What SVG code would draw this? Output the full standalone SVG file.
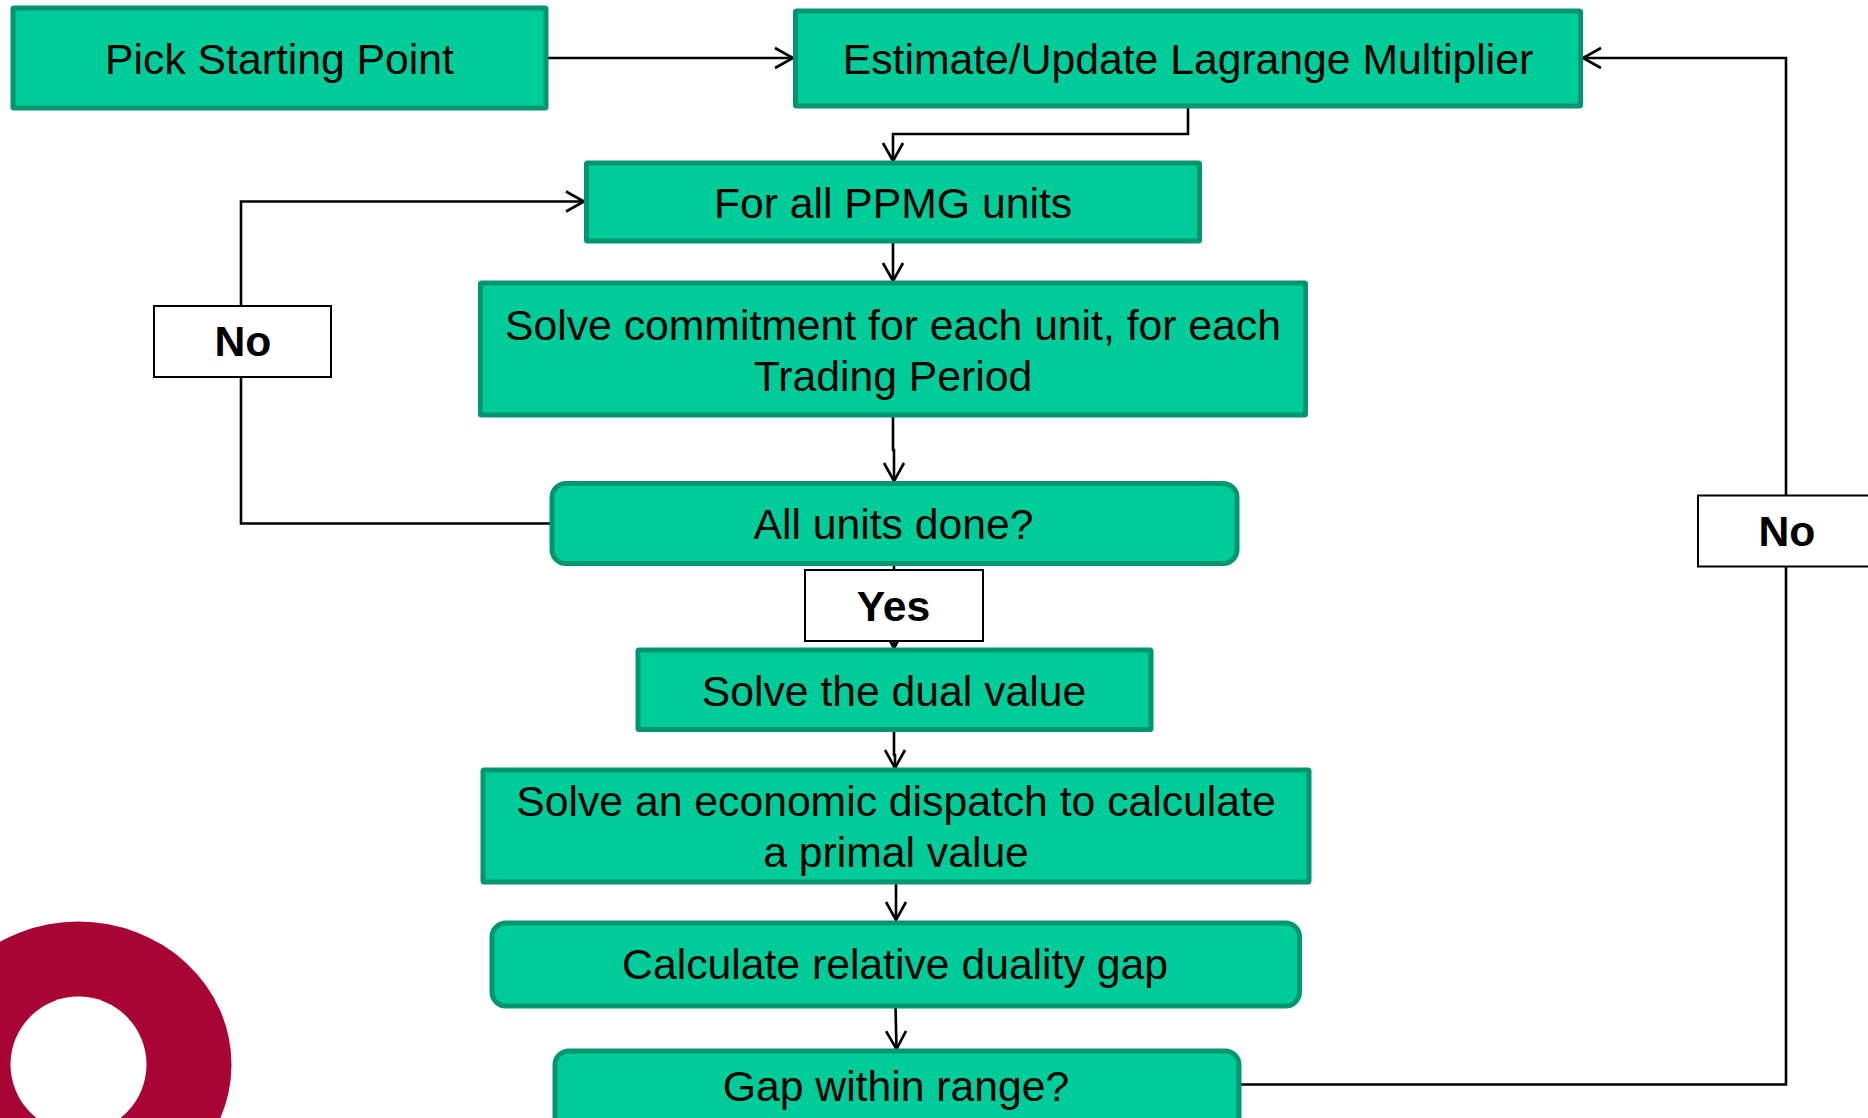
<svg xmlns="http://www.w3.org/2000/svg" width="1868" height="1118" viewBox="0 0 1868 1118">
<style>
.b{fill:#00CC99;stroke:#009670;stroke-width:5}
.l{fill:#fff;stroke:#000;stroke-width:2}
.t{font-family:"Liberation Sans",Arial,sans-serif;font-size:42.700px;fill:#000;text-anchor:middle}
.y{font-family:"Liberation Sans",Arial,sans-serif;font-size:42.700px;font-weight:bold;fill:#000;text-anchor:middle}
.c{fill:none;stroke:#000;stroke-width:2.600}
</style>
<defs>
<marker id="a" markerUnits="userSpaceOnUse" markerWidth="24" markerHeight="26" refX="20" refY="12" orient="auto">
<path d="M2 2L20 12L2 22" fill="none" stroke="#000" stroke-width="2.600"/>
</marker>
</defs>
<rect width="1868" height="1118" fill="#fff"/>
<g id="logo">
<ellipse cx="78.500" cy="1064.500" rx="153" ry="143" fill="#A80535"/>
<ellipse cx="78.500" cy="1064.500" rx="68" ry="68" fill="#fff"/>
</g>
<g id="connectors">
<path class="c" marker-end="url(#a)" d="M548 58H793"/>
<path class="c" marker-end="url(#a)" d="M1188 106V134H893V161"/>
<path class="c" marker-end="url(#a)" d="M893 241V281"/>
<path class="c" marker-end="url(#a)" d="M893 415V450H894V481"/>
<path class="c" marker-end="url(#a)" d="M552 523.500H241V201.500H584"/>
<path class="c" marker-end="url(#a)" d="M894 564V648"/>
<path class="c" marker-end="url(#a)" d="M894 730V755H895V768"/>
<path class="c" marker-end="url(#a)" d="M896 883V920"/>
<path class="c" marker-end="url(#a)" d="M895.500 1006L896.500 1049"/>
<path class="c" marker-end="url(#a)" d="M1239 1084.500H1786V58H1583"/>
</g>
<g id="n1"><rect class="b" x="13" y="8" width="533" height="100" rx="1"/><text class="t" x="279.500" y="73.500">Pick Starting Point</text></g>
<g id="n2"><rect class="b" x="795.500" y="11" width="785" height="95" rx="1"/><text class="t" x="1188" y="73.500">Estimate/Update Lagrange Multiplier</text></g>
<g id="n3"><rect class="b" x="586.500" y="163" width="613" height="78" rx="1"/><text class="t" x="893" y="217.500">For all PPMG units</text></g>
<g id="n4"><rect class="b" x="480.500" y="283" width="825" height="132" rx="1"/><text class="t" x="893" y="339.500">Solve commitment for each unit, for each</text><text class="t" x="893" y="391">Trading Period</text></g>
<g id="n5"><rect class="b" x="552" y="483.500" width="685" height="80" rx="14"/><text class="t" x="893.500" y="539">All units done?</text></g>
<g id="n6"><rect class="b" x="638" y="650" width="513" height="79.500" rx="1"/><text class="t" x="894" y="706">Solve the dual value</text></g>
<g id="n7"><rect class="b" x="483" y="770" width="826" height="112" rx="1"/><text class="t" x="896" y="816">Solve an economic dispatch to calculate</text><text class="t" x="896" y="867">a primal value</text></g>
<g id="n8"><rect class="b" x="492" y="923" width="807.500" height="83" rx="14"/><text class="t" x="895" y="979">Calculate relative duality gap</text></g>
<g id="n9"><rect class="b" x="555" y="1051" width="684" height="90" rx="14"/><text class="t" x="896" y="1101">Gap within range?</text></g>
<g id="l1"><rect class="l" x="154" y="306" width="177" height="71"/><text class="y" x="243" y="356">No</text></g>
<g id="l2"><rect class="l" x="805" y="570" width="178" height="71"/><text class="y" x="893.500" y="621">Yes</text></g>
<g id="l3"><rect class="l" x="1698" y="495.500" width="180" height="71"/><text class="y" x="1787" y="546">No</text></g>
</svg>
